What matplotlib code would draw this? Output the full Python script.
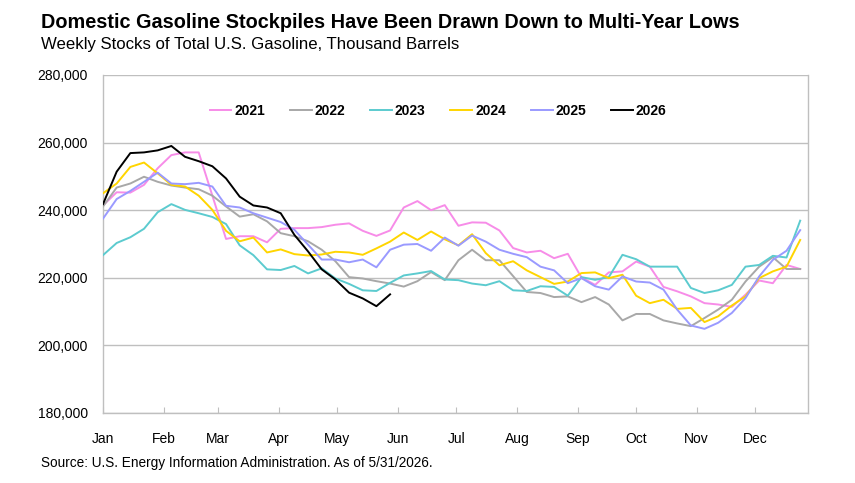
import matplotlib
matplotlib.use("Agg")
import matplotlib.pyplot as plt
from matplotlib.ticker import FuncFormatter, FixedLocator
import numpy as np

plt.rcParams['font.family'] = ['Liberation Sans', 'DejaVu Sans']

years = ["2021", "2022", "2023", "2024", "2025", "2026"]
colors = ["#F78CE8", "#A8A8A8", "#5CCBCF", "#FFD500", "#9A9AFF", "#000000"]

s2021 = [241.4, 245.3, 245.2, 247.5, 252.4, 256.3, 257.1, 257.1, 244.3, 231.5, 232.3,
         232.3, 230.5, 234.5, 234.7, 234.7, 235.0, 235.7, 236.1, 233.9, 232.4,
         234.0, 240.8, 242.7, 240.0, 241.5, 235.4, 236.4, 236.3, 234.0, 228.8,
         227.5, 228.0, 225.8, 227.1, 220.1, 217.9, 221.6, 221.9, 224.8, 223.3,
         217.3, 216.0, 214.5, 212.5, 212.1, 211.4, 215.0, 219.2, 218.4, 223.8, 222.6]
s2022 = [241.1, 246.7, 247.9, 249.9, 248.4, 247.3, 246.7, 246.2, 244.3, 241.1, 238.1,
         238.8, 236.7, 233.2, 232.3, 230.8, 228.3, 224.9, 220.2, 219.8, 219.0,
         218.3, 217.4, 219.0, 221.7, 219.3, 225.2, 228.3, 225.2, 225.2, 220.5,
         215.8, 215.5, 214.3, 214.5, 212.8, 214.3, 212.1, 207.4, 209.3, 209.3,
         207.4, 206.5, 205.7, 208.1, 210.6, 213.5, 218.9, 223.3, 226.1, 222.6, 222.6]
s2023 = [226.7, 230.3, 232.0, 234.5, 239.4, 241.8, 240.1, 239.1, 238.0, 235.9, 229.6,
         226.7, 222.5, 222.3, 223.5, 221.3, 222.8, 219.8, 218.2, 216.3, 216.1,
         218.5, 220.7, 221.3, 222.0, 219.5, 219.3, 218.3, 217.8, 219.0, 216.3,
         216.1, 217.5, 217.3, 214.7, 220.2, 219.4, 220.2, 226.8, 225.5, 223.3,
         223.3, 223.3, 217.0, 215.5, 216.3, 217.9, 223.3, 223.8, 226.5, 226.0, 236.9]
s2024 = [245.0, 247.9, 252.8, 254.1, 250.9, 247.5, 247.0, 244.3, 240.1, 233.9, 230.8,
         231.9, 227.5, 228.4, 227.0, 226.6, 226.9, 227.7, 227.5, 226.8, 228.7,
         230.7, 233.4, 231.2, 233.7, 231.4, 229.6, 232.9, 227.3, 223.7, 224.9,
         222.2, 220.2, 218.2, 218.9, 221.4, 221.6, 219.9, 220.9, 214.7, 212.5,
         213.5, 210.8, 211.1, 206.9, 208.6, 211.8, 214.5, 219.9, 221.9, 223.3, 231.2]
s2025 = [237.5, 243.3, 245.7, 248.4, 251.1, 247.9, 247.7, 248.1, 247.0, 241.3, 240.8,
         239.1, 237.8, 236.5, 234.2, 229.8, 225.4, 225.4, 224.6, 225.4, 223.1,
         228.3, 229.8, 230.0, 228.0, 231.9, 229.5, 232.5, 230.7, 228.3, 227.1,
         226.1, 223.3, 222.2, 218.4, 219.9, 217.5, 216.5, 220.4, 218.9, 218.6,
         216.5, 210.6, 205.9, 204.9, 206.7, 209.6, 214.0, 220.4, 225.3, 228.0, 234.1]
s2026 = [241.8, 251.4, 256.9, 257.1, 257.7, 259.0, 255.8, 254.5, 253.0, 249.4, 244.0,
         241.4, 240.8, 239.1, 232.7, 227.8, 222.5, 219.5, 215.6, 213.9, 211.6, 215.1]

series = [s2021, s2022, s2023, s2024, s2025, s2026]

months = ["Jan", "Feb", "Mar", "Apr", "May", "Jun", "Jul", "Aug", "Sep", "Oct", "Nov", "Dec"]
month_start_days = [0, 31, 59, 90, 120, 151, 181, 212, 243, 273, 304, 334]
y_ticks = [180000, 200000, 220000, 240000, 260000, 280000]

fig = plt.figure(figsize=(8.55, 4.83), dpi=100)
ax = fig.add_axes([103/855, 1-413/483, (808-103)/855, (413-75)/483])

grid_c = "#BFBFBF"
for yv in y_ticks:
    ax.axhline(yv, color=grid_c, lw=1.0, zorder=0)

for yr, col, vals in zip(years, colors, series):
    x = np.arange(len(vals)) * 7
    ax.plot(x, np.array(vals) * 1000, color=col, lw=1.4, label=yr, zorder=3)

ax.set_xlim(0, 361)
ax.set_ylim(180000, 280000)
ax.set_yticks(y_ticks)
ax.yaxis.set_major_formatter(FuncFormatter(lambda v, p: f"{int(v):,}"))
ax.xaxis.set_major_locator(FixedLocator(month_start_days))
ax.set_xticklabels(months)
ax.tick_params(axis='x', direction='in', length=4, color=grid_c, labelsize=10,
               pad=13.5, labelcolor="#000000")
ax.tick_params(axis='y', length=0, labelsize=10, pad=10.8, labelcolor="#000000")
for s in ['left', 'right', 'bottom']:
    ax.spines[s].set_color(grid_c)
    ax.spines[s].set_linewidth(1.0)
ax.spines['top'].set_visible(False)

leg = ax.legend(loc='center', bbox_to_anchor=(438/855, 1-111/483), bbox_transform=fig.transFigure,
                ncol=6, frameon=False, handlelength=1.57, handletextpad=0.2,
                columnspacing=1.8, prop={'weight': 'bold', 'size': 10})

fig.text(41/855, 1-22/483, "Domestic Gasoline Stockpiles Have Been Drawn Down to Multi-Year Lows",
         fontsize=14.3, fontweight='bold', va='center', ha='left')
fig.text(41/855, 1-45/483, "Weekly Stocks of Total U.S. Gasoline, Thousand Barrels",
         fontsize=12.1, va='center', ha='left')
fig.text(41/855, 1-463/483, "Source: U.S. Energy Information Administration. As of 5/31/2026.",
         fontsize=9.8, va='center', ha='left')

fig.savefig("out.png", dpi=100)
